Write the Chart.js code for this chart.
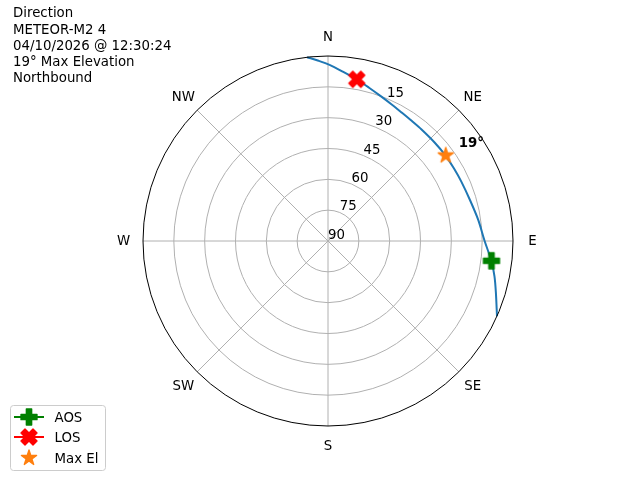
<!DOCTYPE html>
<html>
<head>
  <meta charset="utf-8">
  <title>Pass Direction</title>
  <script src="https://cdn.jsdelivr.net/npm/chart.js"></script>
  <style>
    body { margin: 0; background: #fff; }
    canvas { display: block; }
  </style>
</head>
<body>
  <canvas id="passChart" width="640" height="480"></canvas>

  <script>
    const titleLines = ['Direction', 'METEOR-M2 4', '04/10/2026 @ 12:30:24', '19° Max Elevation', 'Northbound'];
    const directionLabels = ['N', 'NE', 'E', 'SE', 'S', 'SW', 'W', 'NW'];
    const directionAzimuths = [0, 45, 90, 135, 180, 225, 270, 315];
    const elevationTicks = [90, 75, 60, 45, 30, 15];

    // pass track: azimuth (deg from N, clockwise) and elevation (deg)
    const passAzimuth = [353.5, 357, 0.5, 5, 10, 15, 20, 25, 30, 35, 40, 47, 54, 60, 66, 74, 82, 90, 97, 102, 107, 114];
    const passElevation = [0, 2.2, 4.3, 7.3, 10.1, 12.8, 15.0, 16.7, 18.0, 18.8, 19.2, 19.4, 19.3, 19.3, 19.0, 18.1, 16.2, 13.8, 9.9, 7.2, 4.6, 0];

    const markerNames = ['AOS', 'LOS', 'Max El'];
    const markerAzimuth = [96.9, 10.1, 54];
    const markerElevation = [9.9, 10.1, 19.2];
    const maxElText = '19°';

    const FONT = '13.33px "DejaVu Sans"';

    // zenith in the middle, horizon on the rim
    function toXY(az, el) {
      const r = 90 - el;
      const a = az * Math.PI / 180;
      return { x: r * Math.sin(a), y: r * Math.cos(a) };
    }

    function markerCanvas(verts, color) {
      const c = document.createElement('canvas');
      c.width = 22;
      c.height = 22;
      const g = c.getContext('2d');
      g.translate(11, 11);
      g.beginPath();
      verts.forEach((v, i) => i ? g.lineTo(v[0], v[1]) : g.moveTo(v[0], v[1]));
      g.closePath();
      g.fillStyle = color;
      g.strokeStyle = color;
      g.lineWidth = 1.33;
      g.lineJoin = 'round';
      g.fill();
      g.stroke();
      return c;
    }

    const plusShape = [[-1,-3],[1,-3],[1,-1],[3,-1],[3,1],[1,1],[1,3],[-1,3],[-1,1],[-3,1],[-3,-1],[-1,-1]]
      .map(v => [v[0] * 16 / 6, v[1] * 16 / 6]);
    const xShape = [[-1,-2],[0,-1],[1,-2],[2,-1],[1,0],[2,1],[1,2],[0,1],[-1,2],[-2,1],[-1,0],[-2,-1]]
      .map(v => [v[0] * 4, v[1] * 4]);
    const starShape = [];
    for (let i = 0; i < 10; i++) {
      const a = (-90 + i * 36) * Math.PI / 180;
      const r = i % 2 ? 8 * 0.381966 : 8;
      starShape.push([r * Math.cos(a), r * Math.sin(a)]);
    }

    const aosIcon = markerCanvas(plusShape, '#008000');
    const losIcon = markerCanvas(xShape, '#ff0000');
    const starIcon = markerCanvas(starShape, '#ff7f0e');

    const polarGrid = {
      id: 'polarGrid',
      beforeDatasetsDraw(chart) {
        const { ctx, scales: { x, y } } = chart;
        const cx = x.getPixelForValue(0), cy = y.getPixelForValue(0);
        const unit = x.getPixelForValue(1) - cx;
        ctx.save();
        ctx.strokeStyle = '#b0b0b0';
        ctx.lineWidth = 1;
        elevationTicks.forEach(el => {
          if (el >= 90) return;
          ctx.beginPath();
          ctx.arc(cx, cy, (90 - el) * unit, 0, 2 * Math.PI);
          ctx.stroke();
        });
        directionAzimuths.forEach(az => {
          const p = toXY(az, 0);
          ctx.beginPath();
          ctx.moveTo(cx, cy);
          ctx.lineTo(x.getPixelForValue(p.x), y.getPixelForValue(p.y));
          ctx.stroke();
        });
        ctx.restore();
      },
      afterDatasetsDraw(chart) {
        const { ctx, scales: { x, y } } = chart;
        const cx = x.getPixelForValue(0), cy = y.getPixelForValue(0);
        const unit = x.getPixelForValue(1) - cx;
        ctx.save();

        // rim
        ctx.strokeStyle = '#000';
        ctx.lineWidth = 1;
        ctx.beginPath();
        ctx.arc(cx, cy, 90 * unit, 0, 2 * Math.PI);
        ctx.stroke();

        ctx.fillStyle = '#000';
        ctx.font = FONT;
        ctx.textAlign = 'center';
        ctx.textBaseline = 'middle';

        // compass labels just outside the rim
        directionLabels.forEach((lab, i) => {
          const p = toXY(directionAzimuths[i], -9.5);
          ctx.fillText(lab, x.getPixelForValue(p.x), y.getPixelForValue(p.y) + 1);
        });

        // elevation labels along 22.5 deg
        elevationTicks.forEach(el => {
          const p = toXY(22.5, el);
          ctx.fillText(String(el), x.getPixelForValue(p.x) + 8.5, y.getPixelForValue(p.y) - 5.5);
        });

        // max elevation note
        const m = toXY(markerAzimuth[2], markerElevation[2]);
        ctx.font = 'bold ' + FONT;
        ctx.textAlign = 'left';
        ctx.textBaseline = 'alphabetic';
        ctx.fillText(maxElText, x.getPixelForValue(m.x) + 13, y.getPixelForValue(m.y) - 8.3);

        // title block
        ctx.font = FONT;
        titleLines.forEach((t, i) => ctx.fillText(t, 13, 17.3 + i * 16.2));

        // legend
        ctx.strokeStyle = '#cccccc';
        ctx.fillStyle = 'rgba(255,255,255,0.8)';
        ctx.beginPath();
        ctx.moveTo(13.5, 405.5);
        ctx.arcTo(105.5, 405.5, 105.5, 470.5, 3);
        ctx.arcTo(105.5, 470.5, 10.5, 470.5, 3);
        ctx.arcTo(10.5, 470.5, 10.5, 405.5, 3);
        ctx.arcTo(10.5, 405.5, 105.5, 405.5, 3);
        ctx.closePath();
        ctx.fill();
        ctx.stroke();

        const rows = [417, 437, 458];
        const icons = [aosIcon, losIcon, starIcon];
        markerNames.forEach((name, i) => {
          const ds = chart.data.datasets[i + 1];
          const ry = rows[i];
          if (ds.legendLine) {
            ctx.strokeStyle = ds.borderColor;
            ctx.lineWidth = 2;
            ctx.beginPath();
            ctx.moveTo(14, ry);
            ctx.lineTo(44, ry);
            ctx.stroke();
          }
          ctx.drawImage(icons[i], 29 - 11, ry - 11);
          ctx.fillStyle = '#000';
          ctx.fillText(name, 54.5, ry + 5);
        });
        ctx.restore();
      }
    };

    const ctx = document.getElementById('passChart').getContext('2d');

    const passChart = new Chart(ctx, {
      type: 'scatter',
      data: {
        datasets: [
          {
            data: passAzimuth.map((az, i) => toXY(az, passElevation[i])),
            showLine: true,
            borderColor: '#1f77b4',
            borderWidth: 2,
            pointRadius: 0,
            tension: 0.3,
            order: 5
          },
          {
            label: markerNames[0],
            data: [toXY(markerAzimuth[0], markerElevation[0])],
            pointStyle: aosIcon,
            borderColor: '#008000',
            legendLine: true,
            order: 1
          },
          {
            label: markerNames[1],
            data: [toXY(markerAzimuth[1], markerElevation[1])],
            pointStyle: losIcon,
            borderColor: '#ff0000',
            legendLine: true,
            order: 1
          },
          {
            label: markerNames[2],
            data: [toXY(markerAzimuth[2], markerElevation[2])],
            pointStyle: starIcon,
            borderColor: '#ff7f0e',
            legendLine: false,
            order: 0
          }
        ]
      },
      options: {
        responsive: false,
        animation: false,
        devicePixelRatio: 1,
        layout: { padding: { left: 143, right: 127, top: 56, bottom: 54 } },
        scales: {
          x: { type: 'linear', min: -90, max: 90, display: false },
          y: { type: 'linear', min: -90, max: 90, display: false }
        },
        plugins: {
          legend: { display: false },
          tooltip: { enabled: false }
        }
      },
      plugins: [polarGrid]
    });
  </script>
</body>
</html>
